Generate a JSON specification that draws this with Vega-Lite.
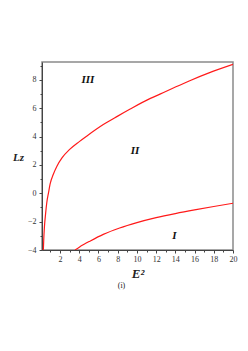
{
  "$schema": "https://vega.github.io/schema/vega-lite/v6.json",
  "width": 191,
  "height": 188,
  "autosize": "none",
  "padding": {"left": 42, "top": 62, "right": 15, "bottom": 101},
  "background": "white",
  "config": {
    "view": {"stroke": "#8a8a8a", "strokeWidth": 1.5},
    "font": "Liberation Serif"
  },
  "title": {
    "text": "(i)",
    "orient": "bottom",
    "font": "Liberation Serif",
    "fontSize": 8,
    "fontWeight": "normal",
    "color": "#222",
    "offset": 2,
    "dx": -16
  },
  "resolve": {"axis": {"x": "independent", "y": "independent"}},
  "layer": [
    {
      "data": {
        "values": [
          {"curve": "upper", "E2": 0.26, "Lz": -4.0},
          {"curve": "upper", "E2": 0.3, "Lz": -3.3},
          {"curve": "upper", "E2": 0.37, "Lz": -2.4},
          {"curve": "upper", "E2": 0.5, "Lz": -1.4},
          {"curve": "upper", "E2": 0.62, "Lz": -0.65},
          {"curve": "upper", "E2": 0.8, "Lz": 0.05},
          {"curve": "upper", "E2": 0.96, "Lz": 0.65},
          {"curve": "upper", "E2": 1.3, "Lz": 1.35},
          {"curve": "upper", "E2": 1.66, "Lz": 1.9},
          {"curve": "upper", "E2": 2.2, "Lz": 2.5},
          {"curve": "upper", "E2": 3.0, "Lz": 3.1},
          {"curve": "upper", "E2": 4.0, "Lz": 3.65},
          {"curve": "upper", "E2": 4.8, "Lz": 4.05},
          {"curve": "upper", "E2": 6.5, "Lz": 4.85},
          {"curve": "upper", "E2": 8.0, "Lz": 5.45},
          {"curve": "upper", "E2": 9.3, "Lz": 5.95},
          {"curve": "upper", "E2": 11.4, "Lz": 6.7},
          {"curve": "upper", "E2": 12.4, "Lz": 7.0},
          {"curve": "upper", "E2": 14.0, "Lz": 7.5},
          {"curve": "upper", "E2": 15.5, "Lz": 7.95},
          {"curve": "upper", "E2": 17.5, "Lz": 8.5},
          {"curve": "upper", "E2": 20.0, "Lz": 9.1},
          {"curve": "lower", "E2": 3.56, "Lz": -4.0},
          {"curve": "lower", "E2": 4.0, "Lz": -3.8},
          {"curve": "lower", "E2": 4.5, "Lz": -3.6},
          {"curve": "lower", "E2": 5.1, "Lz": -3.38},
          {"curve": "lower", "E2": 6.5, "Lz": -2.9},
          {"curve": "lower", "E2": 8.2, "Lz": -2.45},
          {"curve": "lower", "E2": 10.0, "Lz": -2.07},
          {"curve": "lower", "E2": 12.0, "Lz": -1.72},
          {"curve": "lower", "E2": 14.0, "Lz": -1.43},
          {"curve": "lower", "E2": 16.0, "Lz": -1.17},
          {"curve": "lower", "E2": 18.0, "Lz": -0.93},
          {"curve": "lower", "E2": 20.0, "Lz": -0.7}
        ]
      },
      "mark": {"type": "line", "color": "#ff1a1a", "strokeWidth": 1.2, "interpolate": "monotone", "clip": true},
      "encoding": {
        "x": {
          "field": "E2",
          "type": "quantitative",
          "scale": {"domain": [0.12, 20], "nice": false, "zero": false},
          "axis": {
            "orient": "bottom",
            "values": [2, 4, 6, 8, 10, 12, 14, 16, 18, 20],
            "tickSize": 3,
            "grid": false,
            "domainColor": "#444",
            "tickColor": "#444",
            "labelColor": "#333",
            "labelFont": "Liberation Serif",
            "labelFontSize": 8,
            "labelPadding": 2,
            "labelOverlap": false,
            "labelFlush": false,
            "title": "E²",
            "titleFont": "Liberation Serif",
            "titleFontSize": 13,
            "titleFontStyle": "italic",
            "titleFontWeight": "bold",
            "titleColor": "#222",
            "titleBaseline": "middle",
            "titleY": 23
          }
        },
        "y": {
          "field": "Lz",
          "type": "quantitative",
          "scale": {"domain": [-4, 9.27], "nice": false, "zero": false},
          "axis": {
            "orient": "left",
            "values": [-4, -2, 0, 2, 4, 6, 8],
            "tickSize": 3,
            "grid": false,
            "domainColor": "#444",
            "tickColor": "#444",
            "labelColor": "#333",
            "labelFont": "Liberation Serif",
            "labelFontSize": 8,
            "labelPadding": 3,
            "labelOverlap": false,
            "labelFlush": false,
            "title": "Lz",
            "titleFont": "Liberation Serif",
            "titleFontSize": 11,
            "titleFontStyle": "italic",
            "titleFontWeight": "bold",
            "titleColor": "#222",
            "titleAngle": 0,
            "titleAlign": "center",
            "titleBaseline": "middle",
            "titleX": -24,
            "titleY": 95
          }
        },
        "detail": {"field": "curve"}
      }
    },
    {
      "data": {
        "values": [
          {"E2": 4.9, "Lz": 8.0, "label": "III"},
          {"E2": 9.8, "Lz": 3.0, "label": "II"},
          {"E2": 13.9, "Lz": -3.0, "label": "I"}
        ]
      },
      "mark": {"type": "text", "font": "Liberation Serif", "fontStyle": "italic", "fontWeight": "bold", "fontSize": 11, "color": "#111"},
      "encoding": {
        "x": {
          "field": "E2",
          "type": "quantitative",
          "axis": {
            "orient": "bottom",
            "values": [1, 3, 5, 7, 9, 11, 13, 15, 17, 19],
            "tickSize": 2,
            "tickColor": "#444",
            "labels": false,
            "domain": false,
            "grid": false,
            "title": null
          }
        },
        "y": {
          "field": "Lz",
          "type": "quantitative",
          "axis": {
            "orient": "left",
            "values": [-3, -1, 1, 3, 5, 7, 9],
            "tickSize": 2,
            "tickColor": "#444",
            "labels": false,
            "domain": false,
            "grid": false,
            "title": null
          }
        },
        "text": {"field": "label"}
      }
    }
  ]
}
